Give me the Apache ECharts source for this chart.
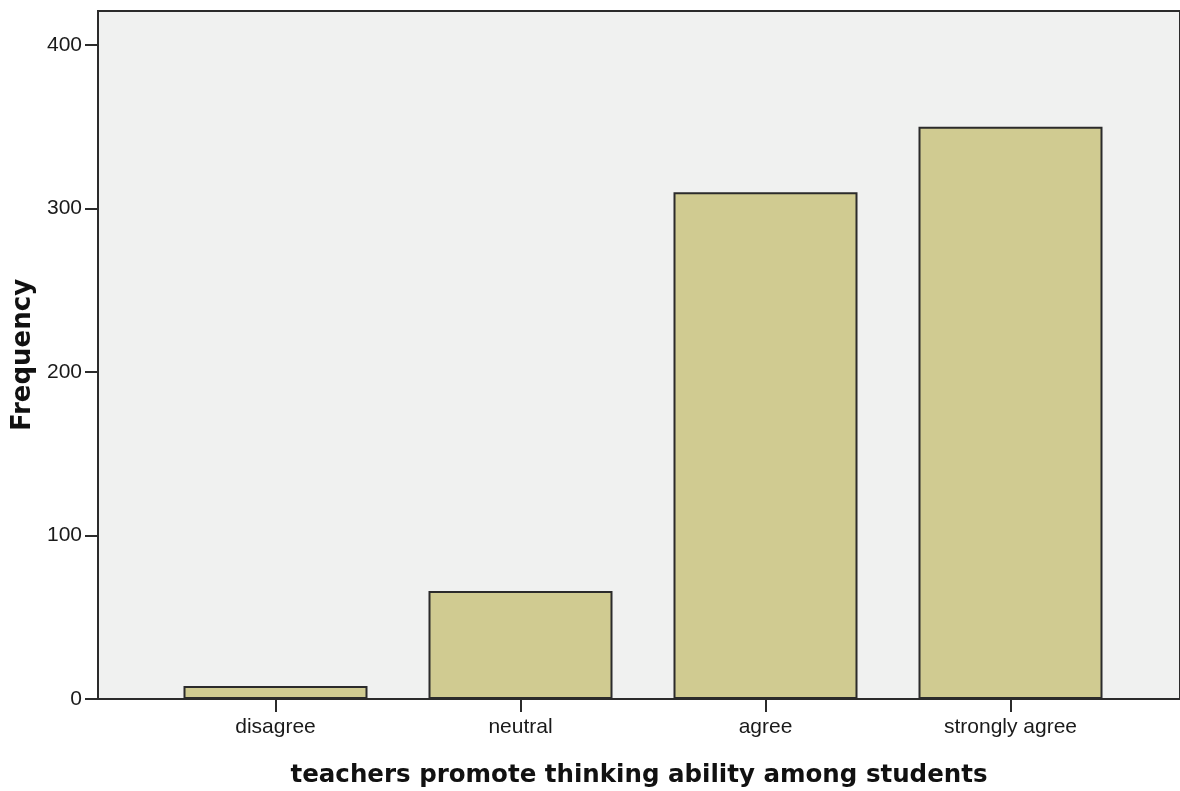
<!DOCTYPE html>
<html>
<head>
<meta charset="utf-8">
<script src="https://cdn.jsdelivr.net/npm/echarts@6/dist/echarts.min.js"></script>
<style>
  html, body { margin: 0; padding: 0; background: #fff; }
  #chart { width: 1180px; height: 791px; }
</style>
</head>
<body>
<div id="chart"></div>
<script>
// answers to "teachers promote thinking ability among students"
const categories = ['disagree', 'neutral', 'agree', 'strongly agree'];
const frequency = [8, 66, 310, 350];
const yTicks = [0, 100, 200, 300, 400];

const yMax = 420.8;
const dark = '#2b2b2b';

const chart = echarts.init(document.getElementById('chart'));

const option = {
  animation: false,
  // grid 0 = frame + y axis, grid 1 = the bars (narrower band like SPSS)
  grid: [
    { left: 98, right: 0, top: 11, bottom: 92, show: true, outerBoundsMode: 'none',
      backgroundColor: '#f0f1f0', borderColor: dark, borderWidth: 2, containLabel: false },
    { left: 153, right: 47, top: 11, bottom: 92, outerBoundsMode: 'none', containLabel: false }
  ],
  xAxis: [
    { gridIndex: 0, type: 'value', min: 0, max: 1,
      axisLine: { show: true, lineStyle: { color: dark, width: 2 } },
      axisTick: { show: false }, axisLabel: { show: false }, splitLine: { show: false },
      name: 'teachers promote thinking ability among students',
      nameLocation: 'middle', nameGap: 64,
      nameTextStyle: { fontFamily: 'DejaVu Sans', fontWeight: 'bold', fontSize: 24.5, color: '#111' } },
    { gridIndex: 1, type: 'category', data: categories,
      axisLine: { show: false },
      axisTick: { show: true, alignWithLabel: true, length: 13, lineStyle: { color: dark, width: 2 } },
      axisLabel: { margin: 18, fontFamily: 'Liberation Sans', fontSize: 21, color: '#1a1a1a' } }
  ],
  yAxis: [
    { gridIndex: 0, type: 'value', min: 0, max: yMax,
      axisLine: { show: true, lineStyle: { color: dark, width: 2 } },
      axisTick: { show: true, length: 13, lineStyle: { color: dark, width: 2 },
        customValues: yTicks },
      axisLabel: { margin: 16, fontFamily: 'Liberation Sans', fontSize: 21, color: '#1a1a1a',
        customValues: yTicks },
      splitLine: { show: false },
      name: 'Frequency', nameLocation: 'middle', nameGap: 59, nameRotate: 90,
      nameTextStyle: { fontFamily: 'DejaVu Sans', fontWeight: 'bold', fontSize: 26, color: '#111' } },
    { gridIndex: 1, type: 'value', min: 0, max: yMax, show: false, splitLine: { show: false } }
  ],
  series: [{
    type: 'bar',
    xAxisIndex: 1,
    yAxisIndex: 1,
    data: frequency,
    barWidth: 184,
    itemStyle: { color: '#d0cb91', borderColor: dark, borderWidth: 2 }
  }]
};

chart.setOption(option);
</script>
</body>
</html>
